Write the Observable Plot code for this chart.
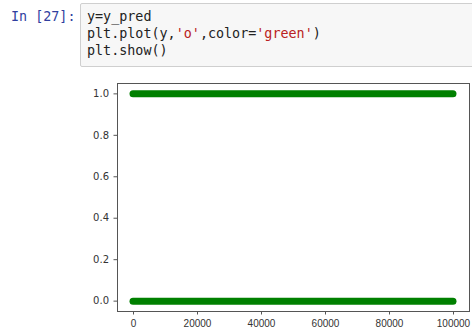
<!DOCTYPE html>
<html>
<head>
<meta charset="utf-8">
<script src="https://cdn.jsdelivr.net/npm/d3@7"></script>
<script src="https://cdn.jsdelivr.net/npm/@observablehq/plot@0.6"></script>
<style>
  html, body { margin: 0; padding: 0; background: #fff; width: 472px; height: 329px; overflow: hidden; }
  #page { position: relative; width: 472px; height: 329px; }
  .mono { font-family: "DejaVu Sans Mono", "Liberation Mono", monospace; font-size: 13.4px; line-height: 17px; white-space: pre; }
  #prompt { position: absolute; left: 11px; top: 8px; color: #303F9F; }
  #cell { position: absolute; left: 80px; top: 3px; width: 420px; height: 64px; background: #f7f7f7; border: 1px solid #cfcfcf; border-radius: 2px; box-sizing: border-box; }
  .line { position: absolute; left: 6px; color: #222; }
  .str { color: #BA2121; }
  #chart { position: absolute; left: 0; top: 70px; }
  #chart svg g[aria-label="x-axis tick label"] text { font-family: "Liberation Sans", Arial, sans-serif; }
</style>
</head>
<body>
<div id="page">
  <div id="prompt" class="mono">In [27]:</div>
  <div id="cell">
    <div class="line mono" style="top:4px"><span>y=y_pred</span></div>
    <div class="line mono" style="top:21px"><span>plt.plot(y,</span><span class="str">'o'</span><span>,color=</span><span class="str">'green'</span><span>)</span></div>
    <div class="line mono" style="top:38px"><span>plt.show()</span></div>
  </div>
  <div id="chart"></div>
</div>
<script>
// Predicted values (y_pred) are binary: runs of samples at each class value
const runValue = [0, 1];          // class value of each run
const runStart = [0, 0];          // first sample index of the run
const runEnd = [99999, 99999];    // last sample index of the run

const xTicks = [0, 20000, 40000, 60000, 80000, 100000];
const yTicks = [0.0, 0.2, 0.4, 0.6, 0.8, 1.0];

const runs = runValue.map((v, i) => ({ y: v, x1: runStart[i], x2: runEnd[i] }));

const chart = Plot.plot({
  width: 472,
  height: 259,
  marginLeft: 117,
  marginRight: 3,
  marginTop: 13,
  marginBottom: 18,
  style: { fontFamily: "DejaVu Sans, sans-serif", fontSize: "10px", color: "#333", background: "transparent", overflow: "visible" },
  x: { domain: [-5000, 105000] },
  y: { domain: [-0.05, 1.05] },
  marks: [
    Plot.ruleY(runs, { y: "y", x1: "x1", x2: "x2", stroke: "#008000", strokeWidth: 7, strokeLinecap: "round" }),
    Plot.frame({ stroke: "#555", strokeWidth: 1 }),
    Plot.axisX({ ticks: xTicks, tickFormat: d => String(d), tickSize: 3.5, tickPadding: 4.5, label: null, stroke: "#555", color: "#333" }),
    Plot.axisY({ ticks: yTicks, tickFormat: d => d.toFixed(1), tickSize: 3.5, tickPadding: 5, label: null, stroke: "#555", color: "#333" })
  ]
});
document.getElementById("chart").appendChild(chart);
</script>
</body>
</html>
